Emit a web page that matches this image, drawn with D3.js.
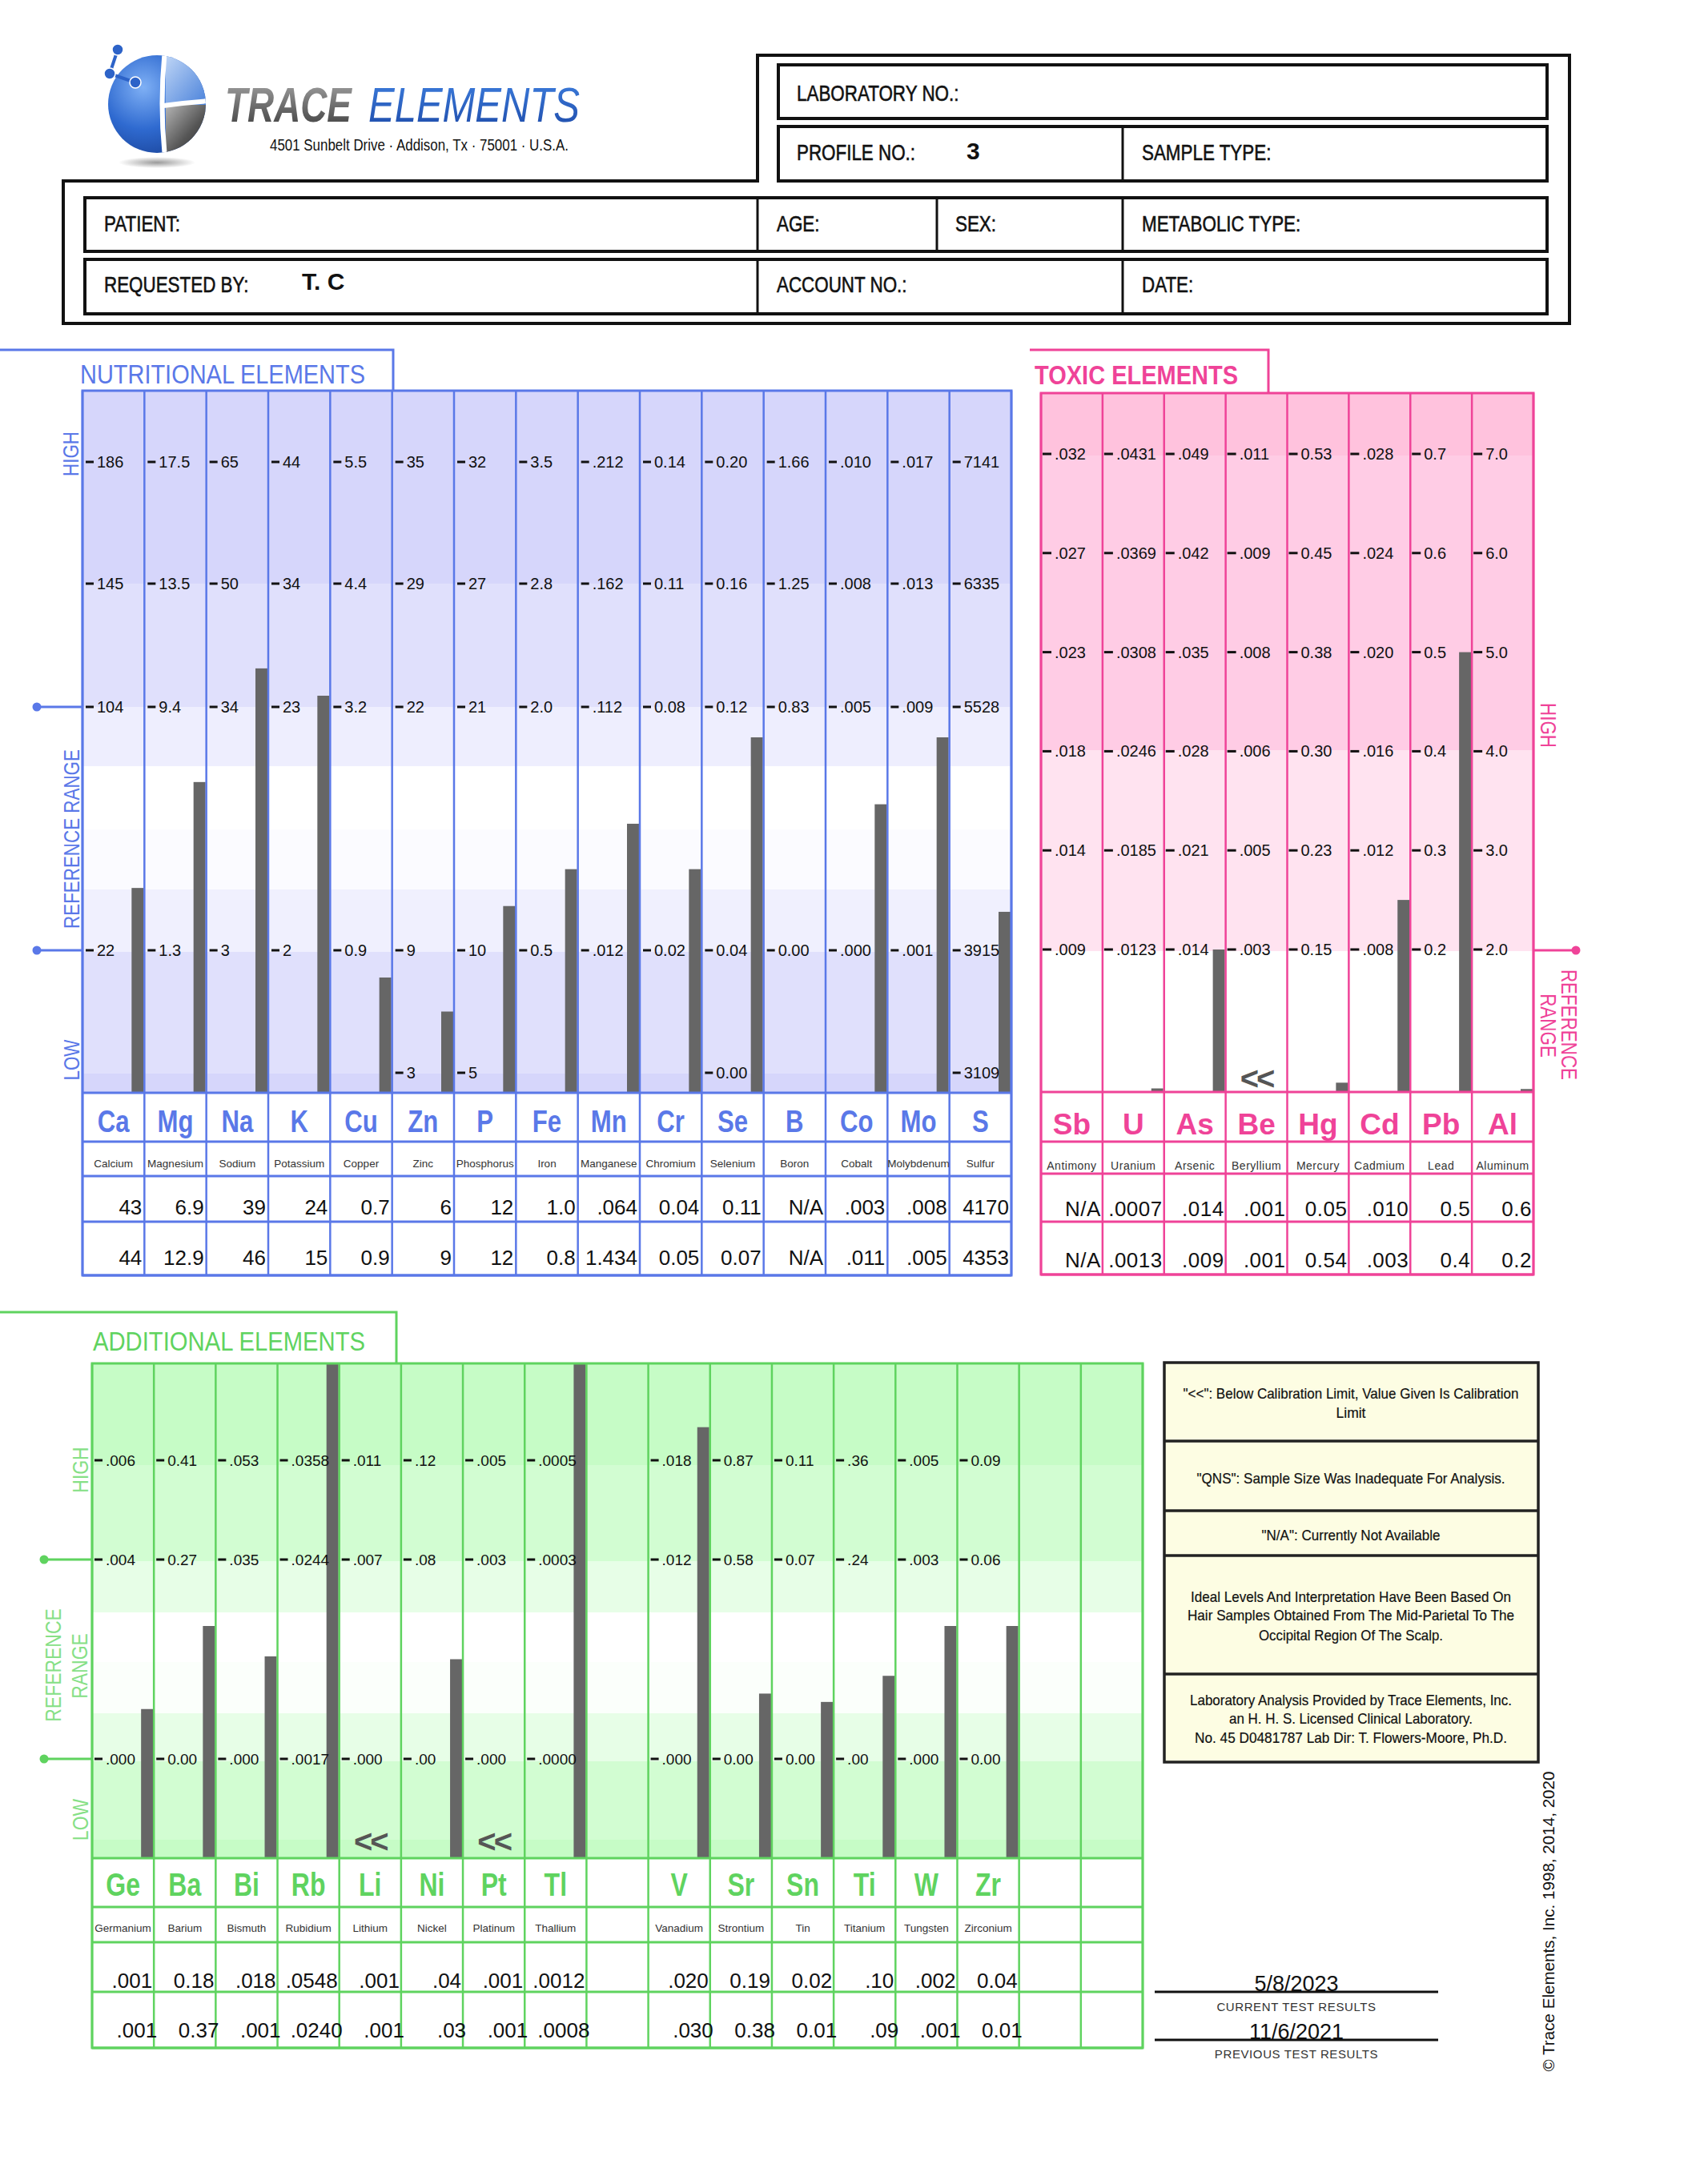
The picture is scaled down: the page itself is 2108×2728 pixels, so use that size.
<!DOCTYPE html>
<html><head><meta charset="utf-8">
<script src="https://cdn.jsdelivr.net/npm/d3@7"></script>
<style>html,body{margin:0;padding:0;background:#fff;} svg{display:block;}</style>
</head><body>
<svg id="c" width="2108" height="2728" xmlns="http://www.w3.org/2000/svg"></svg>
<script>
// ================= DATA =================
const nutriSymbols = ["Ca","Mg","Na","K","Cu","Zn","P","Fe","Mn","Cr","Se","B","Co","Mo","S"];
const nutriNames = ["Calcium","Magnesium","Sodium","Potassium","Copper","Zinc","Phosphorus","Iron","Manganese","Chromium","Selenium","Boron","Cobalt","Molybdenum","Sulfur"];
const nutriHigh1 = ["186","17.5","65","44","5.5","35","32","3.5",".212","0.14","0.20","1.66",".010",".017","7141"];
const nutriHigh2 = ["145","13.5","50","34","4.4","29","27","2.8",".162","0.11","0.16","1.25",".008",".013","6335"];
const nutriRefHigh = ["104","9.4","34","23","3.2","22","21","2.0",".112","0.08","0.12","0.83",".005",".009","5528"];
const nutriRefLow = ["22","1.3","3","2","0.9","9","10","0.5",".012","0.02","0.04","0.00",".000",".001","3915"];
const nutriLow = ["","","","","","3","5","","","","0.00","","","","3109"];
const nutriCurrent = ["43","6.9","39","24","0.7","6","12","1.0",".064","0.04","0.11","N/A",".003",".008","4170"];
const nutriPrevious = ["44","12.9","46","15","0.9","9","12","0.8","1.434","0.05","0.07","N/A",".011",".005","4353"];

const toxicSymbols = ["Sb","U","As","Be","Hg","Cd","Pb","Al"];
const toxicNames = ["Antimony","Uranium","Arsenic","Beryllium","Mercury","Cadmium","Lead","Aluminum"];
const toxicTickLabels = [
  [".009",".014",".018",".023",".027",".032"],
  [".0123",".0185",".0246",".0308",".0369",".0431"],
  [".014",".021",".028",".035",".042",".049"],
  [".003",".005",".006",".008",".009",".011"],
  ["0.15","0.23","0.30","0.38","0.45","0.53"],
  [".008",".012",".016",".020",".024",".028"],
  ["0.2","0.3","0.4","0.5","0.6","0.7"],
  ["2.0","3.0","4.0","5.0","6.0","7.0"]
];
const toxicScaleFloor = [0, 0.0004, 0, 0, 0.043, 0, 0, 0.57];
const toxicCurrent = ["N/A",".0007",".014",".001","0.05",".010","0.5","0.6"];
const toxicPrevious = ["N/A",".0013",".009",".001","0.54",".003","0.4","0.2"];
const toxicBelowLimit = [false,false,false,true,false,false,false,false];

const addSymbols = ["Ge","Ba","Bi","Rb","Li","Ni","Pt","Tl","","V","Sr","Sn","Ti","W","Zr","",""];
const addNames = ["Germanium","Barium","Bismuth","Rubidium","Lithium","Nickel","Platinum","Thallium","","Vanadium","Strontium","Tin","Titanium","Tungsten","Zirconium","",""];
const addHigh = [".006","0.41",".053",".0358",".011",".12",".005",".0005","",".018","0.87","0.11",".36",".005","0.09","",""];
const addRefHigh = [".004","0.27",".035",".0244",".007",".08",".003",".0003","",".012","0.58","0.07",".24",".003","0.06","",""];
const addRefLow = [".000","0.00",".000",".0017",".000",".00",".000",".0000","",".000","0.00","0.00",".00",".000","0.00","",""];
const addCurrent = [".001","0.18",".018",".0548",".001",".04",".001",".0012","",".020","0.19","0.02",".10",".002","0.04","",""];
const addPrevious = [".001","0.37",".001",".0240",".001",".03",".001",".0008","",".030","0.38","0.01",".09",".001","0.01","",""];
const addBelowLimit = [false,false,false,false,true,false,true,false,false,false,false,false,false,false,false,false,false];

const legendRows = [
  ['"<<": Below Calibration Limit, Value Given Is Calibration', 'Limit'],
  ['"QNS": Sample Size Was Inadequate For Analysis.'],
  ['"N/A": Currently Not Available'],
  ['Ideal Levels And Interpretation Have Been Based On', 'Hair Samples Obtained From The Mid-Parietal To The', 'Occipital Region Of The Scalp.'],
  ['Laboratory Analysis Provided by Trace Elements, Inc.', 'an H. H. S. Licensed Clinical Laboratory.', 'No. 45 D0481787  Lab Dir: T. Flowers-Moore, Ph.D.']
];
const currentDate = "5/8/2023";
const previousDate = "11/6/2021";

// ================= HELPERS =================
const svg = d3.select('#c');
const F = '"Liberation Sans", Arial, Helvetica, sans-serif';
function T(g, x, y, s, o = {}) {
  let tr = `translate(${x},${y})`;
  if (o.rot) tr += ` rotate(${o.rot})`;
  if (o.sx && o.sx !== 1) tr += ` scale(${o.sx},1)`;
  const t = g.append('text').attr('transform', tr)
    .attr('font-family', o.family || F).attr('font-size', o.size || 20)
    .attr('fill', o.fill || '#111').attr('text-anchor', o.anchor || 'start').text(s);
  if (o.weight) t.attr('font-weight', o.weight);
  if (o.style) t.attr('font-style', o.style);
  if (o.ls != null) t.attr('letter-spacing', o.ls);
  if (o.len) t.attr('textLength', o.len).attr('lengthAdjust', 'spacingAndGlyphs');
  if (o.stroke) t.attr('stroke', o.fill || '#111').attr('stroke-width', o.stroke);
  return t;
}
function L(g, x1, y1, x2, y2, c, w) {
  return g.append('line').attr('x1', x1).attr('y1', y1).attr('x2', x2).attr('y2', y2).attr('stroke', c).attr('stroke-width', w);
}
const num = s => parseFloat(s);

// ================= DEFS / LOGO =================
const defs = svg.append('defs');
function lin(id, x1, y1, x2, y2, stops) {
  const g = defs.append('linearGradient').attr('id', id).attr('x1', x1).attr('y1', y1).attr('x2', x2).attr('y2', y2);
  stops.forEach(s => g.append('stop').attr('offset', s[0]).attr('stop-color', s[1]));
}
function rad(id, cx, cy, r, stops) {
  const g = defs.append('radialGradient').attr('id', id).attr('cx', cx).attr('cy', cy).attr('r', r);
  stops.forEach(s => g.append('stop').attr('offset', s[0]).attr('stop-color', s[1]));
}
rad('gBlue', '0.35', '0.35', '0.75', [[0, '#7fb0f5'], [0.5, '#2f6ad0'], [1, '#163c8e']]);
lin('gGray', '0', '0', '1', '1', [[0, '#b5b5b5'], [0.5, '#555'], [1, '#1e1e1e']]);
lin('gLight', '0', '0', '1', '1', [[0, '#c8dcf8'], [1, '#3f7ad8']]);
rad('gShadow', '0.5', '0.5', '0.5', [[0, '#9a9a9a'], [1, '#ffffff']]);
lin('gTrace', '0', '0', '0', '1', [[0, '#a8a8a8'], [0.55, '#6a6a6a'], [1, '#3a3a3a']]);
lin('gElem', '0', '0', '0', '1', [[0, '#3f80e0'], [1, '#1d4aa8']]);
defs.append('clipPath').attr('id', 'sph').append('circle').attr('cx', 196).attr('cy', 130).attr('r', 61);

const logo = svg.append('g');
logo.append('ellipse').attr('cx', 196).attr('cy', 203).attr('rx', 48).attr('ry', 7).attr('fill', 'url(#gShadow)');
const sp = logo.append('g').attr('clip-path', 'url(#sph)');
sp.append('rect').attr('x', 130).attr('y', 60).attr('width', 140).attr('height', 140).attr('fill', 'url(#gBlue)');
sp.append('rect').attr('x', 207).attr('y', 60).attr('width', 60).attr('height', 71).attr('fill', 'url(#gLight)');
sp.append('rect').attr('x', 207).attr('y', 131).attr('width', 60).attr('height', 70).attr('fill', 'url(#gGray)');
sp.append('path').attr('d', 'M206,62 Q199,130 206,196').attr('fill', 'none').attr('stroke', '#fff').attr('stroke-width', 6);
sp.append('path').attr('d', 'M204,132 Q232,128 262,126').attr('fill', 'none').attr('stroke', '#fff').attr('stroke-width', 6);
const mol = [[147, 62], [137, 92], [169, 103]];
logo.append('path').attr('d', d3.line()(mol)).attr('fill', 'none').attr('stroke', '#2d63c8').attr('stroke-width', 4);
mol.forEach(p => logo.append('circle').attr('cx', p[0]).attr('cy', p[1]).attr('r', 7).attr('fill', '#2d63c8').attr('stroke', '#fff').attr('stroke-width', 1.5));
T(logo, 281, 152, 'TRACE', { size: 62, weight: 'bold', style: 'italic', fill: 'url(#gTrace)', sx: 0.74 });
T(logo, 460, 152, 'ELEMENTS', { size: 62, style: 'italic', fill: 'url(#gElem)', sx: 0.79 });
T(logo, 337, 188, '4501 Sunbelt Drive · Addison, Tx · 75001 · U.S.A.', { size: 20, len: 373 });

// ================= HEADER =================
const H = svg.append('g');
const HK = '#111';
H.append('path').attr('d', 'M79,226 H946 V69 H1960 V404 H79 Z').attr('fill', 'none').attr('stroke', HK).attr('stroke-width', 4);
[[972, 81, 960, 67], [972, 158, 960, 68], [106, 247, 1826, 67], [106, 324, 1826, 68]].forEach(r =>
  H.append('rect').attr('x', r[0]).attr('y', r[1]).attr('width', r[2]).attr('height', r[3]).attr('fill', 'none').attr('stroke', HK).attr('stroke-width', 4));
L(H, 1402, 158, 1402, 226, HK, 3);
[946, 1170, 1402].forEach(x => L(H, x, 247, x, 314, HK, 3));
[946, 1402].forEach(x => L(H, x, 324, x, 392, HK, 3));
const hs = { size: 28, sx: 0.8, stroke: 0.6 };
T(H, 995, 126, 'LABORATORY NO.:', hs);
T(H, 995, 200, 'PROFILE NO.:', hs);
T(H, 1207, 199, '3', { size: 30, weight: 'bold' });
T(H, 1426, 200, 'SAMPLE TYPE:', hs);
T(H, 130, 289, 'PATIENT:', hs);
T(H, 970, 289, 'AGE:', hs);
T(H, 1193, 289, 'SEX:', hs);
T(H, 1426, 289, 'METABOLIC TYPE:', hs);
T(H, 130, 365, 'REQUESTED BY:', hs);
T(H, 377, 362, 'T. C', { size: 30, weight: 'bold' });
T(H, 970, 365, 'ACCOUNT NO.:', hs);
T(H, 1426, 365, 'DATE:', hs);

// ================= NUTRITIONAL =================
const NC = '#5a78e8';
const nx = d3.scaleBand().domain(d3.range(nutriSymbols.length)).range([103, 1263]);
const NY = { top: 488, high1: 577, high2: 729, refHigh: 883, refLow: 1187, low: 1340, bot: 1365 };
const nRows = [1365, 1426, 1469, 1526, 1593];
const nutriBands = [[488, 729, '#d6d6fb'], [729, 883, '#e0e0fc'], [883, 957, '#eeeefe'], [957, 1036, '#ffffff'], [1036, 1111, '#fbfbff'], [1111, 1189, '#f0f0fe'], [1189, 1341, '#e0e0fc'], [1341, 1365, '#d6d6fb']];
function nutriScale(i) {
  const d = [], r = [];
  const lo = nutriLow[i] === '' ? 0 : num(nutriLow[i]);
  const rl = num(nutriRefLow[i]);
  if (lo < rl) { d.push(lo); r.push(NY.low); }
  d.push(rl, num(nutriRefHigh[i]), num(nutriHigh2[i]), num(nutriHigh1[i]));
  r.push(NY.refLow, NY.refHigh, NY.high2, NY.high1);
  return d3.scaleLinear().domain(d).range(r);
}
const gN = svg.append('g');
gN.append('path').attr('d', 'M0,437 H491 V488').attr('fill', 'none').attr('stroke', NC).attr('stroke-width', 3);
T(gN, 100, 479, 'NUTRITIONAL  ELEMENTS', { size: 33, fill: NC, len: 356 });
nutriBands.forEach(b => gN.append('rect').attr('x', 103).attr('y', b[0]).attr('width', 1160).attr('height', b[1] - b[0]).attr('fill', b[2]));
nutriCurrent.forEach((v, i) => {
  const n = num(v); if (isNaN(n)) return;
  const y = Math.max(NY.top, nutriScale(i)(n)); if (y >= NY.bot) return;
  gN.append('rect').attr('x', nx(i) + nx.bandwidth() - 16).attr('y', y).attr('width', 15).attr('height', NY.bot - y).attr('fill', '#666');
});
d3.range(nutriSymbols.length + 1).forEach(i => { const x = 103 + i * nx.bandwidth(); L(gN, x, NY.top, x, 1593, NC, 2.5); });
nRows.forEach(y => L(gN, 103, y, 1263, y, NC, 3));
gN.append('rect').attr('x', 103).attr('y', NY.top).attr('width', 1160).attr('height', 1593 - NY.top).attr('fill', 'none').attr('stroke', NC).attr('stroke-width', 3);
[[nutriHigh1, NY.high1], [nutriHigh2, NY.high2], [nutriRefHigh, NY.refHigh], [nutriRefLow, NY.refLow], [nutriLow, NY.low]].forEach(([arr, y]) => {
  arr.forEach((lab, i) => {
    if (lab === '') return;
    L(gN, nx(i) + 4, y, nx(i) + 14, y, '#111', 3);
    T(gN, nx(i) + 18, y + 7, lab, { size: 20 });
  });
});
[NY.refHigh, NY.refLow].forEach(y => { L(gN, 46, y, 103, y, NC, 3); gN.append('circle').attr('cx', 46).attr('cy', y).attr('r', 5.5).attr('fill', NC); });
T(gN, 98, 567, 'HIGH', { size: 28, sx: 0.8, rot: -90, anchor: 'middle', fill: NC });
T(gN, 99, 1048, 'REFERENCE   RANGE', { size: 28, sx: 0.8, rot: -90, anchor: 'middle', fill: NC });
T(gN, 99, 1324, 'LOW', { size: 28, sx: 0.8, rot: -90, anchor: 'middle', fill: NC });
nutriSymbols.forEach((s, i) => {
  const cx = nx(i) + nx.bandwidth() / 2, rx = nx(i) + nx.bandwidth() - 3;
  T(gN, cx, 1414, s, { size: 38, weight: 'bold', sx: 0.82, anchor: 'middle', fill: NC });
  T(gN, cx, 1458, nutriNames[i], { size: 13.5, anchor: 'middle', fill: '#333' });
  T(gN, rx, 1517, nutriCurrent[i], { size: 26, anchor: 'end' });
  T(gN, rx, 1580, nutriPrevious[i], { size: 26, anchor: 'end' });
});

// ================= TOXIC =================
const TC = '#ef4398';
const tx = d3.scaleBand().domain(d3.range(toxicSymbols.length)).range([1300, 1915]);
const TTOP = 491, TBOT = 1364;
const ty = d3.scaleLinear().domain([0, 5]).range([1186, 567]);
const tRows = [1364, 1426, 1466, 1526, 1592];
const toxicBands = [[491, 569, '#ffc2dd'], [569, 937, '#ffcce5'], [937, 1188, '#ffe3f0'], [1188, 1364, '#ffffff']];
function toxicScale(i) {
  const d = [toxicScaleFloor[i]].concat(toxicTickLabels[i].map(num));
  const r = [TBOT].concat(d3.range(6).map(ty));
  return d3.scaleLinear().domain(d).range(r);
}
const gT = svg.append('g');
gT.append('path').attr('d', 'M1286,437 H1584 V491').attr('fill', 'none').attr('stroke', TC).attr('stroke-width', 3);
T(gT, 1292, 480, 'TOXIC  ELEMENTS', { size: 33, weight: 'bold', fill: TC, len: 254 });
toxicBands.forEach(b => gT.append('rect').attr('x', 1300).attr('y', b[0]).attr('width', 615).attr('height', b[1] - b[0]).attr('fill', b[2]));
toxicCurrent.forEach((v, i) => {
  const n = num(v); if (isNaN(n) || toxicBelowLimit[i]) return;
  const y = Math.max(TTOP, toxicScale(i)(n)); if (y >= TBOT) return;
  gT.append('rect').attr('x', tx(i) + tx.bandwidth() - 16).attr('y', y).attr('width', 15).attr('height', TBOT - y).attr('fill', '#666');
});
toxicBelowLimit.forEach((f, i) => { if (f) T(gT, tx(i) + tx.bandwidth() / 2, 1361, '<<', { size: 40, weight: 'bold', anchor: 'middle', fill: '#555', ls: -3 }); });
d3.range(toxicSymbols.length + 1).forEach(i => { const x = 1300 + i * tx.bandwidth(); L(gT, x, TTOP, x, 1592, TC, 2.5); });
tRows.forEach(y => L(gT, 1300, y, 1915, y, TC, 3));
gT.append('rect').attr('x', 1300).attr('y', TTOP).attr('width', 615).attr('height', 1592 - TTOP).attr('fill', 'none').attr('stroke', TC).attr('stroke-width', 3);
toxicTickLabels.forEach((arr, i) => arr.forEach((lab, k) => {
  const y = ty(k);
  L(gT, tx(i) + 2, y, tx(i) + 13, y, '#111', 3);
  T(gT, tx(i) + 17, y + 7, lab, { size: 20 });
}));
L(gT, 1915, 1187, 1968, 1187, TC, 3);
gT.append('circle').attr('cx', 1968).attr('cy', 1187).attr('r', 5.5).attr('fill', TC);
T(gT, 1924, 906, 'HIGH', { size: 28, sx: 0.8, rot: 90, anchor: 'middle', fill: TC });
T(gT, 1950, 1280, 'REFERENCE', { size: 28, sx: 0.8, rot: 90, anchor: 'middle', fill: TC });
T(gT, 1924, 1281, 'RANGE', { size: 28, sx: 0.8, rot: 90, anchor: 'middle', fill: TC });
toxicSymbols.forEach((s, i) => {
  const cx = tx(i) + tx.bandwidth() / 2, rx = tx(i) + tx.bandwidth() - 2;
  T(gT, cx, 1417, s, { size: 37, weight: 'bold', anchor: 'middle', fill: TC });
  T(gT, cx, 1461, toxicNames[i], { size: 14, anchor: 'middle', fill: '#333', ls: 0.5 });
  T(gT, rx, 1519, toxicCurrent[i], { size: 26, anchor: 'end', ls: 0.5 });
  T(gT, rx, 1583, toxicPrevious[i], { size: 26, anchor: 'end', ls: 0.5 });
});

// ================= ADDITIONAL =================
const AC = '#5fd35f', ACL = '#86e086';
const ax = d3.scaleBand().domain(d3.range(addSymbols.length)).range([115, 1427]);
const AY = { top: 1703, high: 1824, refHigh: 1948, refLow: 2197, bot: 2321 };
const aRows = [2321, 2382, 2426, 2488, 2558];
const addBands = [[1703, 1830, '#c6fcc6'], [1830, 1950, '#d2fdd2'], [1950, 2014, '#e7fee7'], [2014, 2076, '#ffffff'], [2076, 2140, '#fbfffb'], [2140, 2200, '#e7fee7'], [2200, 2298, '#d2fdd2'], [2298, 2321, '#c6fcc6']];
function addScale(i) {
  return d3.scaleLinear().domain([num(addRefLow[i]), num(addRefHigh[i]), num(addHigh[i])]).range([AY.refLow, AY.refHigh, AY.high]);
}
const gA = svg.append('g');
gA.append('path').attr('d', 'M0,1639 H495 V1703').attr('fill', 'none').attr('stroke', AC).attr('stroke-width', 3);
T(gA, 116, 1687, 'ADDITIONAL  ELEMENTS', { size: 33, fill: AC, len: 340 });
addBands.forEach(b => gA.append('rect').attr('x', 115).attr('y', b[0]).attr('width', 1312).attr('height', b[1] - b[0]).attr('fill', b[2]));
addCurrent.forEach((v, i) => {
  const n = num(v); if (isNaN(n) || addBelowLimit[i] || addRefLow[i] === '') return;
  const y = Math.max(AY.top, addScale(i)(n)); if (y >= AY.bot) return;
  gA.append('rect').attr('x', ax(i) + ax.bandwidth() - 16).attr('y', y).attr('width', 15).attr('height', AY.bot - y).attr('fill', '#666');
});
addBelowLimit.forEach((f, i) => { if (f) T(gA, ax(i) + ax.bandwidth() / 2, 2314, '<<', { size: 40, weight: 'bold', anchor: 'middle', fill: '#555', ls: -3 }); });
d3.range(addSymbols.length + 1).forEach(i => { const x = 115 + i * ax.bandwidth(); L(gA, x, AY.top, x, 2558, AC, 2.5); });
aRows.forEach(y => L(gA, 115, y, 1427, y, AC, 3));
gA.append('rect').attr('x', 115).attr('y', AY.top).attr('width', 1312).attr('height', 2558 - AY.top).attr('fill', 'none').attr('stroke', AC).attr('stroke-width', 3);
[[addHigh, AY.high], [addRefHigh, AY.refHigh], [addRefLow, AY.refLow]].forEach(([arr, y]) => arr.forEach((lab, i) => {
  if (lab === '') return;
  L(gA, ax(i) + 3, y, ax(i) + 13, y, '#111', 3);
  T(gA, ax(i) + 17, y + 7, lab, { size: 19 });
}));
[AY.refHigh, AY.refLow].forEach(y => { L(gA, 55, y, 115, y, AC, 3); gA.append('circle').attr('cx', 55).attr('cy', y).attr('r', 5.5).attr('fill', AC); });
T(gA, 110, 1836, 'HIGH', { size: 27, sx: 0.85, rot: -90, anchor: 'middle', fill: ACL });
T(gA, 76, 2080, 'REFERENCE', { size: 27, sx: 0.85, rot: -90, anchor: 'middle', fill: ACL });
T(gA, 109, 2081, 'RANGE', { size: 27, sx: 0.85, rot: -90, anchor: 'middle', fill: ACL });
T(gA, 110, 2273, 'LOW', { size: 27, sx: 0.85, rot: -90, anchor: 'middle', fill: ACL });
addSymbols.forEach((s, i) => {
  const cx = ax(i) + ax.bandwidth() / 2, r = ax(i) + ax.bandwidth();
  T(gA, cx, 2368, s, { size: 40, weight: 'bold', sx: 0.8, anchor: 'middle', fill: AC });
  T(gA, cx, 2413, addNames[i], { size: 13.5, anchor: 'middle', fill: '#333' });
  T(gA, r - 2, 2483, addCurrent[i], { size: 26, anchor: 'end' });
  T(gA, r + 4, 2545, addPrevious[i], { size: 26, anchor: 'end' });
});

// ================= LEGEND BOX =================
const gL = svg.append('g');
gL.append('rect').attr('x', 1454).attr('y', 1702).attr('width', 467).attr('height', 499).attr('fill', '#fdfde3').attr('stroke', '#222').attr('stroke-width', 3.5);
[1800, 1887, 1943, 2091].forEach(y => L(gL, 1454, y, 1921, y, '#222', 3.5));
const legY = [[1747, 1771], [1853], [1924], [2001, 2024, 2049], [2130, 2153, 2177]];
const legW = [[419, 37], [385], [223], [400, 408, 230], [402, 304, 390]];
legendRows.forEach((lines, r) => lines.forEach((s, k) => T(gL, 1687, legY[r][k], s, { size: 19, anchor: 'middle', len: legW[r][k], stroke: 0.2 })));

// ================= DATES / COPYRIGHT =================
const gD = svg.append('g');
L(gD, 1442, 2488, 1796, 2488, '#111', 3);
L(gD, 1442, 2548, 1796, 2548, '#111', 3);
T(gD, 1619, 2487, currentDate, { size: 27, anchor: 'middle' });
T(gD, 1619, 2512, 'CURRENT TEST RESULTS', { size: 15, anchor: 'middle', fill: '#333', ls: 0.6 });
T(gD, 1619, 2547, previousDate, { size: 27, anchor: 'middle' });
T(gD, 1619, 2571, 'PREVIOUS TEST RESULTS', { size: 15, anchor: 'middle', fill: '#333', ls: 0.6 });
T(gD, 1941, 2400, '© Trace Elements, Inc. 1998, 2014, 2020', { size: 20, rot: -90, anchor: 'middle', len: 375 });
</script>
</body></html>
